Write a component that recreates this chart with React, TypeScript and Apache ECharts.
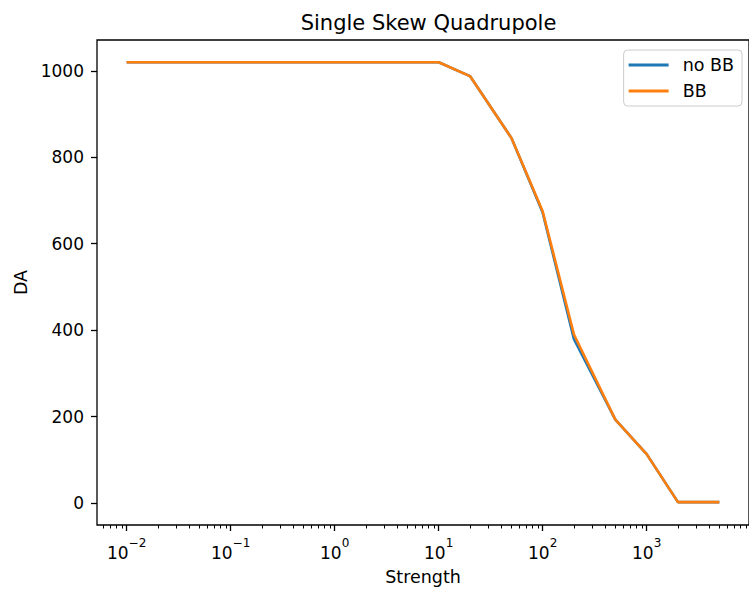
import React, { useEffect, useRef } from "react";
import * as echarts from "echarts";

const strength = [0.01, 0.1, 1, 10, 20, 50, 100, 200, 500, 1000, 2000, 5000];
const daNoBB = [1020, 1020, 1020, 1020, 988, 845, 672, 379, 193, 113, 2, 2];
const daBB = [1020, 1020, 1020, 1020, 988, 845, 675, 390, 193, 113, 2, 2];
const seriesNames = ["no BB", "BB"];
const xMajorTicks = [0.01, 0.1, 1, 10, 100, 1000];
const xMinorDecades = [0.001, 0.01, 0.1, 1, 10, 100, 1000];
const xMinorMultipliers = [2, 3, 4, 5, 6, 7, 8, 9];
const yTicks = [0, 200, 400, 600, 800, 1000];

const FONT = "DejaVu Sans";
const X_MIN = Math.pow(10, -2.285);
const X_MAX = Math.pow(10, 3.984);

export default function App() {
  const ref = useRef<HTMLDivElement>(null);
  useEffect(() => {
    if (!ref.current) return;
    const chart = echarts.init(ref.current, null, { renderer: "svg" });
    const minor: number[] = [];
    xMinorDecades.forEach((d) =>
      xMinorMultipliers.forEach((m) => {
        const v = d * m;
        if (v >= X_MIN && v <= X_MAX) minor.push(v);
      })
    );
    const fmt = (v: number) => {
      const e = Math.round(Math.log10(v));
      const s = e < 0 ? "\u2212" + Math.abs(e) : String(e);
      return `{b|10}{s|${s}}`;
    };
    chart.setOption({
      animation: false,
      title: {
        text: "Single Skew Quadrupole",
        left: 423.5,
        top: 7,
        textAlign: "center",
        textStyle: { fontFamily: FONT, fontSize: 21, fontWeight: "normal", color: "#000" },
      },
      legend: {
        orient: "vertical",
        right: 7,
        top: 50,
        padding: [6, 8, 6, 5],
        itemWidth: 40,
        itemHeight: 3,
        itemGap: 8,
        icon: "rect",
        borderColor: "#cccccc",
        borderWidth: 1,
        borderRadius: 4,
        backgroundColor: "rgba(255,255,255,0.8)",
        textStyle: { fontFamily: FONT, fontSize: 17.5, color: "#000", padding: [0, 0, 0, 9] },
        data: seriesNames,
      },
      grid: {
        left: 97,
        top: 40,
        right: -1,
        bottom: 65,
        show: true,
        borderColor: "#000",
        borderWidth: 1.3,
      },
      xAxis: [
        {
          type: "log",
          min: X_MIN,
          max: X_MAX,
          position: "bottom",
          name: "Strength",
          nameLocation: "middle",
          nameGap: 43,
          nameTextStyle: { fontFamily: FONT, fontSize: 17.5, color: "#000" },
          axisLine: { show: false, onZero: false },
          splitLine: { show: false },
          axisTick: { show: true, length: 6, customValues: xMajorTicks, lineStyle: { color: "#000", width: 1.3 } },
          axisLabel: {
            customValues: xMajorTicks,
            margin: 12,
            formatter: fmt,
            rich: {
              b: { fontFamily: FONT, fontSize: 17, color: "#000", verticalAlign: "bottom", lineHeight: 24 },
              s: { fontFamily: FONT, fontSize: 12, color: "#000", verticalAlign: "top", lineHeight: 14 },
            },
          },
        },
        {
          type: "log",
          min: X_MIN,
          max: X_MAX,
          position: "bottom",
          axisLine: { show: false, onZero: false },
          splitLine: { show: false },
          axisTick: { show: true, length: 3.5, customValues: minor, lineStyle: { color: "#000", width: 1 } },
          axisLabel: { show: false },
        },
      ],
      yAxis: {
        type: "value",
        min: -51,
        max: 1071.5,
        name: "DA",
        nameLocation: "middle",
        nameRotate: 90,
        nameGap: 62,
        nameTextStyle: { fontFamily: FONT, fontSize: 17.5, color: "#000" },
        axisLine: { show: false, onZero: false },
        splitLine: { show: false },
        axisTick: { show: true, length: 6, customValues: yTicks, lineStyle: { color: "#000", width: 1.3 } },
        axisLabel: {
          customValues: yTicks,
          margin: 13,
          fontFamily: FONT,
          fontSize: 17,
          color: "#000",
          formatter: (v: number) => String(v),
        },
      },
      series: [
        {
          name: seriesNames[0],
          type: "line",
          xAxisIndex: 0,
          symbol: "none",
          color: "#1f77b4",
          lineStyle: { width: 2.6, color: "#1f77b4" },
          data: strength.map((s, i) => [s, daNoBB[i]]),
        },
        {
          name: seriesNames[1],
          type: "line",
          xAxisIndex: 0,
          symbol: "none",
          color: "#ff7f0e",
          lineStyle: { width: 2.6, color: "#ff7f0e" },
          data: strength.map((s, i) => [s, daBB[i]]),
        },
      ],
    });
    return () => chart.dispose();
  }, []);
  return (
    <div
      ref={ref}
      style={{ position: "absolute", left: 0, top: 0, width: 749, height: 591, background: "#fff" }}
    />
  );
}
